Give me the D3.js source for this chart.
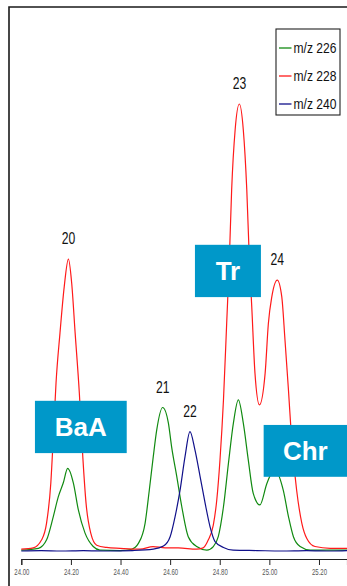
<!DOCTYPE html>
<html>
<head>
<meta charset="utf-8">
<script src="https://cdn.jsdelivr.net/npm/d3@7"></script>
<style>
  body { margin: 0; background: #fff; }
  #js_chart { width: 347px; height: 586px; }
</style>
</head>
<body>
<div id="js_chart"></div>
<script>
// retention time (min), relative intensity (% of peak 23)
const trace226 = [
    [24.000, 0.2], [24.069, 0.6], [24.102, 2.5], [24.129, 7.7], [24.149, 12.1],
    [24.169, 15.2], [24.187, 18.5], [24.210, 15.2], [24.230, 9.2], [24.257, 4.0],
    [24.290, 1.0], [24.317, 0.2], [24.398, 0.1], [24.445, 0.4], [24.472, 1.7],
    [24.499, 6.2], [24.516, 13.6], [24.532, 21.1], [24.546, 27.1], [24.570, 32.1],
    [24.593, 28.6], [24.606, 23.3], [24.627, 16.6], [24.647, 9.9], [24.673, 3.2],
    [24.707, 1.0], [24.748, 0.2], [24.774, 1.0], [24.794, 3.2], [24.815, 9.9],
    [24.835, 19.6], [24.855, 28.6], [24.875, 33.8], [24.895, 28.6], [24.915, 20.4],
    [24.935, 12.9], [24.962, 10.3], [24.990, 15.1], [25.010, 17.4], [25.027, 17.7],
    [25.056, 13.6], [25.077, 7.7], [25.097, 3.2], [25.124, 1.0], [25.165, 0.2],
    [25.313, 0.2]
];

const trace228 = [
    [24.000, 0.4], [24.048, 0.7], [24.082, 2.5], [24.102, 6.3], [24.119, 15.2],
    [24.129, 25.5], [24.140, 37.6], [24.156, 48.8], [24.173, 59.1], [24.190, 65.3],
    [24.203, 60.0], [24.217, 48.8], [24.234, 35.3], [24.248, 21.0], [24.261, 10.7],
    [24.280, 4.0], [24.304, 1.3], [24.344, 0.8], [24.398, 0.6], [24.479, 0.4],
    [24.531, 1.0], [24.580, 0.7], [24.633, 0.7], [24.707, 0.4], [24.733, 0.7],
    [24.754, 2.5], [24.774, 5.8], [24.788, 11.4], [24.801, 20.4], [24.815, 33.8],
    [24.828, 51.0], [24.839, 65.8], [24.848, 80.8], [24.862, 94.2], [24.879, 100.0],
    [24.895, 94.2], [24.909, 80.8], [24.919, 65.8], [24.929, 54.7], [24.942, 39.8],
    [24.960, 32.7], [24.983, 39.8], [24.996, 50.9], [25.010, 56.9], [25.032, 60.6],
    [25.050, 56.9], [25.063, 47.2], [25.077, 36.0], [25.090, 24.8], [25.110, 13.6],
    [25.131, 6.2], [25.151, 2.8], [25.184, 1.0], [25.245, 0.6], [25.313, 0.6]
];

const trace240 = [
    [24.000, 0.0], [24.080, 0.1], [24.160, 0.0], [24.250, 0.1], [24.350, 0.0],
    [24.450, 0.1], [24.532, 0.4], [24.573, 1.1], [24.600, 3.2], [24.620, 7.7],
    [24.640, 13.6], [24.660, 21.1], [24.680, 26.7], [24.700, 22.6], [24.721, 16.6],
    [24.741, 10.7], [24.761, 5.4], [24.781, 2.1], [24.815, 0.8], [24.854, 0.2],
    [24.950, 0.1], [25.050, 0.0], [25.150, 0.1], [25.250, 0.0], [25.313, 0.1]
];

const seriesNames = ["m/z 226", "m/z 228", "m/z 240"];
const seriesColors = ["#118a11", "#ff1a1a", "#10108a"];

const tickValues = [24.0, 24.2, 24.4, 24.6, 24.8, 25.0, 25.2];

const peakIds = ["20", "21", "22", "23", "24"];
const peakTimes = [24.190, 24.570, 24.680, 24.879, 25.032];
const peakSeries = [1, 0, 2, 1, 1];

const compounds = ["BaA", "Tr", "Chr"];

createPlot();

function createPlot() {

    // ******************************************************
    // Settings
    // ******************************************************
    const width = 347,
        height = 586;

    const x = d3.scaleLinear()
        .domain([24.0, 25.313])
        .range([21.3, 347]);

    const y = d3.scaleLinear()
        .domain([0, 121.7])
        .range([551, 7]);

    const traces = [trace226, trace228, trace240];

    const line = d3.line()
        .x(function(d) { return x(d[0]); })
        .y(function(d) { return y(d[1]); })
        .curve(d3.curveMonotoneX);

    const font = "'Liberation Sans', Arial, sans-serif";

    // ******************************************************
    // svg
    // ******************************************************
    const svg = d3.select("#js_chart")
        .append("svg")
        .attr("width", width)
        .attr("height", height);

    // frame (left + top)
    svg.append("path")
        .attr("d", "M9,586V7H347")
        .attr("fill", "none")
        .attr("stroke", "#1a1a1a")
        .attr("stroke-width", 1.6);

    // x axis
    const axis = svg.append("g")
        .attr("transform", "translate(0,559)")
        .call(d3.axisBottom(x)
            .tickValues(tickValues)
            .tickFormat(d3.format(".2f"))
            .tickSizeOuter(0)
            .tickSize(6)
            .tickPadding(4));

    axis.select(".domain").attr("stroke", "#222").attr("stroke-width", 1.1);
    axis.selectAll(".tick line").attr("stroke", "#222");
    axis.selectAll(".tick text")
        .attr("fill", "#555")
        .attr("font-family", font)
        .attr("font-size", 8.5)
        .attr("textLength", 15)
        .attr("lengthAdjust", "spacingAndGlyphs");

    // traces
    svg.append("g")
        .attr("id", "g_plot")
        .selectAll("path")
        .data(traces)
        .enter()
            .append("path")
            .attr("fill", "none")
            .attr("stroke", function(d, i) { return seriesColors[i]; })
            .attr("stroke-width", 1.2)
            .attr("d", line);

    // peak numbers
    svg.append("g")
        .selectAll("text")
        .data(peakIds)
        .enter()
            .append("text")
            .attr("x", function(d, i) { return x(peakTimes[i]) - 6.7; })
            .attr("y", function(d, i) {
                const tr = traces[peakSeries[i]];
                const p = tr.reduce(function(a, b) {
                    return Math.abs(b[0] - peakTimes[i]) < Math.abs(a[0] - peakTimes[i]) ? b : a;
                });
                return y(p[1]) - 15;
            })
            .attr("font-family", font)
            .attr("font-size", 17)
            .attr("textLength", 13.5)
            .attr("lengthAdjust", "spacingAndGlyphs")
            .attr("fill", "#111")
            .text(function(d) { return d; });

    // compound boxes (x in minutes, y in % of the y domain)
    const boxes = [
        {t0: 24.055, t1: 24.425, i0: 21.9, i1: 33.6},
        {t0: 24.700, t1: 24.966, i0: 56.8, i1: 68.5},
        {t0: 24.977, t1: 25.313, i0: 16.6, i1: 28.2}
    ];

    const gBox = svg.append("g")
        .selectAll("g")
        .data(compounds)
        .enter()
            .append("g");

    gBox.append("rect")
        .attr("x", function(d, i) { return x(boxes[i].t0); })
        .attr("y", function(d, i) { return y(boxes[i].i1); })
        .attr("width", function(d, i) { return x(boxes[i].t1) - x(boxes[i].t0); })
        .attr("height", function(d, i) { return y(boxes[i].i0) - y(boxes[i].i1); })
        .attr("fill", "#0098c9");

    gBox.append("text")
        .attr("x", function(d, i) { return (x(boxes[i].t0) + x(boxes[i].t1)) / 2; })
        .attr("y", function(d, i) { return (y(boxes[i].i0) + y(boxes[i].i1)) / 2; })
        .attr("dy", "0.36em")
        .attr("text-anchor", "middle")
        .attr("font-family", font)
        .attr("font-weight", "bold")
        .attr("font-size", 26)
        .attr("fill", "#fff")
        .text(function(d) { return d; });

    // legend
    const legend = svg.append("g").attr("transform", "translate(276,29)");

    legend.append("rect")
        .attr("width", 64)
        .attr("height", 86)
        .attr("fill", "#fff")
        .attr("stroke", "#222")
        .attr("stroke-width", 1.1);

    const item = legend.selectAll(".item")
        .data(seriesNames)
        .enter()
            .append("g")
            .attr("class", "item")
            .attr("transform", function(d, i) { return "translate(0," + (19 + i * 28) + ")"; });

    item.append("line")
        .attr("x1", 3)
        .attr("x2", 15.5)
        .attr("stroke", function(d, i) { return seriesColors[i]; })
        .attr("stroke-width", 1.3);

    item.append("text")
        .attr("x", 17.5)
        .attr("dy", "0.36em")
        .attr("font-family", font)
        .attr("font-size", 14.5)
        .attr("textLength", 43)
        .attr("lengthAdjust", "spacingAndGlyphs")
        .attr("fill", "#111")
        .text(function(d) { return d; });
}
</script>
</body>
</html>
